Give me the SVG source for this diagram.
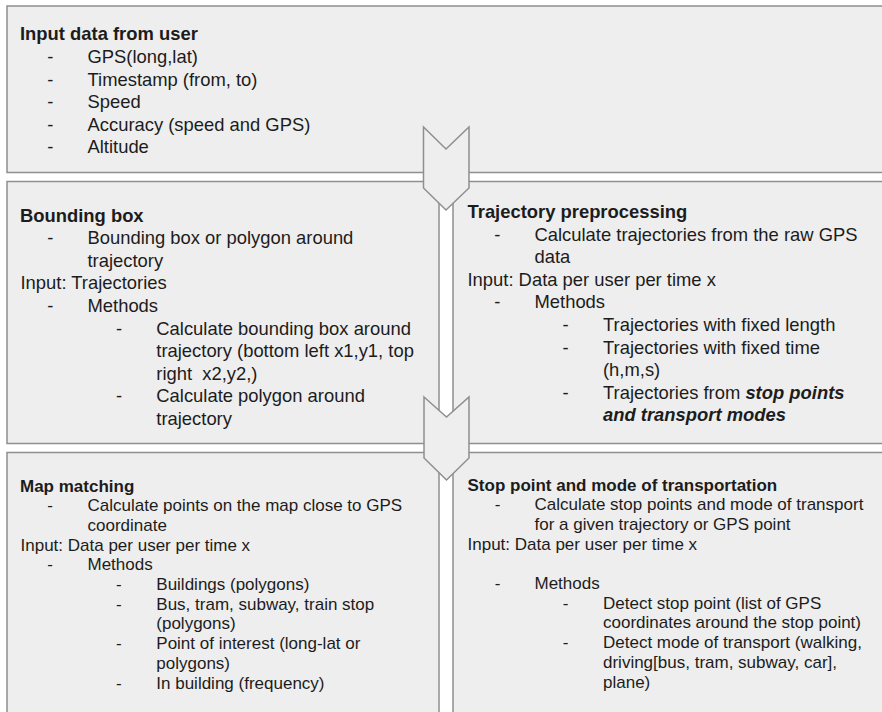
<svg xmlns="http://www.w3.org/2000/svg" width="882" height="712" viewBox="0 0 882 712">
<style>
.box{fill:#eeeeee;stroke:#8f8f8f;stroke-width:1.5}
.arr{fill:#eeeeee;stroke:#8f8f8f;stroke-width:1.5;stroke-linejoin:miter}
text{font-family:"Liberation Sans",Arial,sans-serif;fill:#1c1c1c}
.m text{font-size:18.4px}
.s text{font-size:17px}
.b{font-weight:bold}
.bi{font-weight:bold;font-style:italic}
</style>
<rect width="882" height="712" fill="#ffffff"/>
<g id="input-data" class="m">
<rect class="box" x="7" y="6" width="885" height="166.5"/>
<text class="b" x="20" y="40">Input data from user</text>
<text x="47.3" y="63">-</text><text x="87.5" y="63">GPS(long,lat)</text>
<text x="47.3" y="85.6">-</text><text x="87.5" y="85.6">Timestamp (from, to)</text>
<text x="47.3" y="108.2">-</text><text x="87.5" y="108.2">Speed</text>
<text x="47.3" y="130.8">-</text><text x="87.5" y="130.8">Accuracy (speed and GPS)</text>
<text x="47.3" y="153.4">-</text><text x="87.5" y="153.4">Altitude</text>
</g>
<g id="bounding-box" class="m">
<rect class="box" x="7" y="181.5" width="432" height="262"/>
<text class="b" x="20" y="221.5">Bounding box</text>
<text x="47.3" y="244.1">-</text><text x="87.5" y="244.1">Bounding box or polygon around</text>
<text x="87.5" y="266.7">trajectory</text>
<text x="20.5" y="289.3">Input: Trajectories</text>
<text x="47.3" y="311.9">-</text><text x="87.5" y="311.9">Methods</text>
<text x="116" y="334.5">-</text><text x="156.3" y="334.5">Calculate bounding box around</text>
<text x="156.3" y="357.1">trajectory (bottom left x1,y1, top</text>
<text x="156.3" y="379.7" xml:space="preserve">right  x2,y2,)</text>
<text x="116" y="402.3">-</text><text x="156.3" y="402.3">Calculate polygon around</text>
<text x="156.3" y="424.9">trajectory</text>
</g>
<g id="trajectory-preprocessing" class="m">
<rect class="box" x="453" y="181.5" width="440" height="262"/>
<text class="b" x="467.5" y="218">Trajectory preprocessing</text>
<text x="494.3" y="240.6">-</text><text x="534.5" y="240.6">Calculate trajectories from the raw GPS</text>
<text x="534.5" y="263.2">data</text>
<text x="467.5" y="285.8">Input: Data per user per time x</text>
<text x="494.3" y="308.4">-</text><text x="534.5" y="308.4">Methods</text>
<text x="562.6" y="331">-</text><text x="603" y="331">Trajectories with fixed length</text>
<text x="562.6" y="353.6">-</text><text x="603" y="353.6">Trajectories with fixed time</text>
<text x="603" y="376.2">(h,m,s)</text>
<text x="562.6" y="398.8">-</text><text x="603" y="398.8">Trajectories from <tspan class="bi">stop points</tspan></text>
<text class="bi" x="603" y="421.4">and transport modes</text>
</g>
<g id="map-matching" class="s">
<rect class="box" x="7" y="452.5" width="432" height="270"/>
<text class="b" x="20" y="491.5">Map matching</text>
<text x="47.3" y="511.2">-</text><text x="87.5" y="511.2">Calculate points on the map close to GPS</text>
<text x="87.5" y="530.9">coordinate</text>
<text x="20.5" y="550.6">Input: Data per user per time x</text>
<text x="47.3" y="570.3">-</text><text x="87.5" y="570.3">Methods</text>
<text x="116" y="590">-</text><text x="156.3" y="590">Buildings (polygons)</text>
<text x="116" y="609.7">-</text><text x="156.3" y="609.7">Bus, tram, subway, train stop</text>
<text x="156.3" y="629.4">(polygons)</text>
<text x="116" y="649.1">-</text><text x="156.3" y="649.1">Point of interest (long-lat or</text>
<text x="156.3" y="668.8">polygons)</text>
<text x="116" y="688.5">-</text><text x="156.3" y="688.5">In building (frequency)</text>
</g>
<g id="stop-point-mode" class="s">
<rect class="box" x="453" y="452.5" width="440" height="270"/>
<text class="b" x="467.5" y="490.5">Stop point and mode of transportation</text>
<text x="494.8" y="510.2">-</text><text x="534.5" y="510.2">Calculate stop points and mode of transport</text>
<text x="534.5" y="529.9">for a given trajectory or GPS point</text>
<text x="467.5" y="549.6">Input: Data per user per time x</text>
<text x="494.8" y="589">-</text><text x="534.5" y="589">Methods</text>
<text x="562.8" y="608.7">-</text><text x="603" y="608.7">Detect stop point (list of GPS</text>
<text x="603" y="628.4">coordinates around the stop point)</text>
<text x="562.8" y="648.1">-</text><text x="603" y="648.1">Detect mode of transport (walking,</text>
<text x="603" y="667.8">driving[bus, tram, subway, car],</text>
<text x="603" y="687.5">plane)</text>
</g>
<g id="connectors">
<polygon class="arr" points="423.5,127 446,149 469,127 469,188 446,210 423.5,188"/>
<polygon class="arr" points="424,397 446.5,417 469,397 469,458 446.5,480 424,458"/>
</g>
</svg>
